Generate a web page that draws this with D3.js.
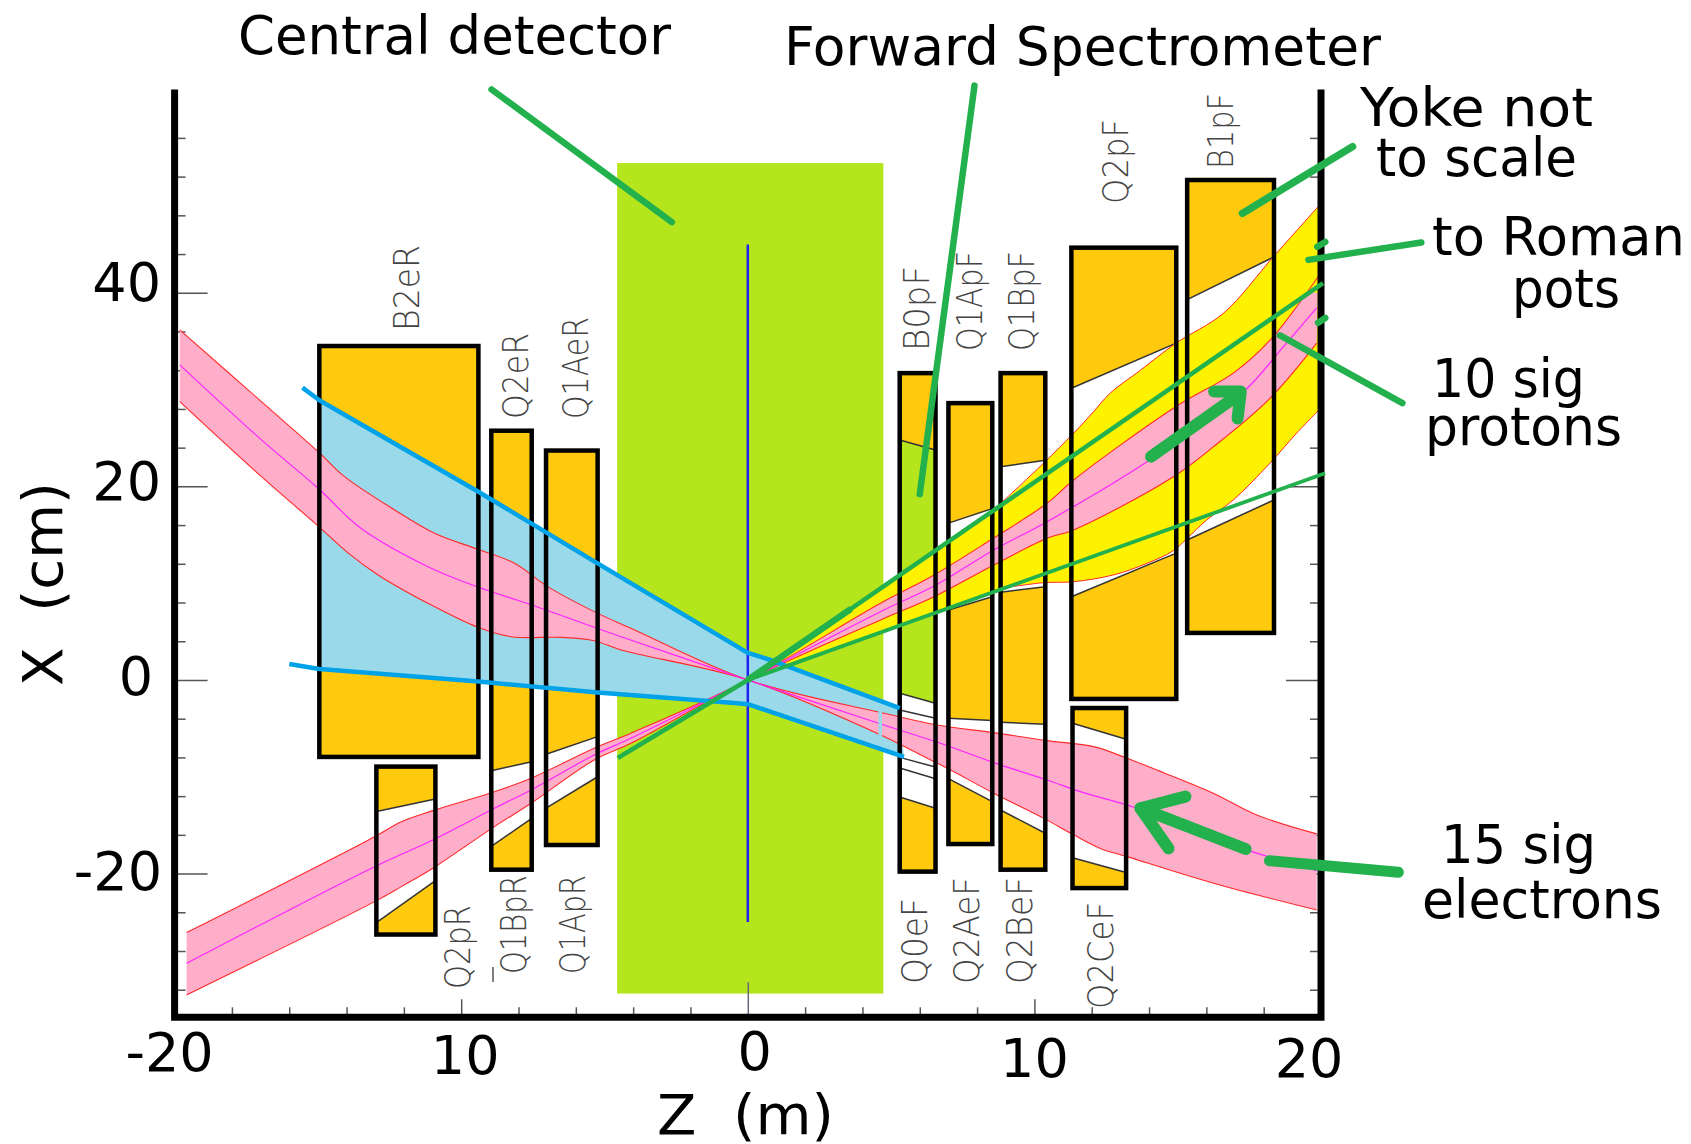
<!DOCTYPE html>
<html>
<head>
<meta charset="utf-8">
<style>
  html, body { margin: 0; padding: 0; background: #fff; overflow: hidden; }
  svg { display: block; }
  text { font-family: "DejaVu Sans", sans-serif; fill: #000; }
  .magnet-label { font-weight: 200; fill: #444; font-size: 36px; }
</style>
<script src="https://cdn.jsdelivr.net/npm/d3@7"></script>
</head>
<body>
<svg id="chart" width="1691" height="1144"></svg>
<script>
// all values below are [z in m, x in cm]

// name, z start, z end, x top, x bottom
const magnets = [
  ["B2eR", -14.95, -9.4, 34.5, -7.95],
  ["Q2eR", -8.95, -7.54, 25.75, -19.6],
  ["Q1AeR", -7.04, -5.24, 23.7, -17.05],
  ["Q2pR", -12.96, -10.9, -8.95, -26.3],
  ["B0pF", 5.3, 6.55, 31.7, -19.8],
  ["Q1ApF", 7.0, 8.53, 28.6, -16.95],
  ["Q1BpF", 8.82, 10.38, 31.7, -19.6],
  ["Q2pF", 11.29, 14.95, 44.66, -1.96],
  ["Q2CeF", 11.33, 13.2, -2.9, -21.5],
  ["B1pF", 15.33, 18.36, 51.65, 4.86]
];

// aperture openings: z start, z end, top at start, top at end, bottom at start, bottom at end
const apertures = [
  [-8.95, -7.54, -9.37, -8.44, -17.2, -14.3],
  [-7.04, -5.24, -7.68, -5.85, -13.25, -10.0],
  [-12.96, -10.9, -13.6, -12.3, -25.07, -20.73],
  [5.3, 6.55, -1.37, -2.4, -12.1, -13.25],
  [7.0, 8.53, 16.2, 17.7, 7.23, 8.6],
  [7.0, 8.53, -3.96, -4.2, -10.2, -12.57],
  [8.82, 10.38, 22.03, 22.7, 9.06, 9.64],
  [8.82, 10.38, -4.37, -4.58, -13.43, -15.84],
  [11.29, 14.95, 30.13, 34.8, 8.6, 13.1],
  [11.33, 13.2, -4.47, -6.13, -18.36, -19.9],
  [15.33, 18.36, 39.3, 43.7, 14.46, 18.6]
];
// extra liner edges inside Q0
const q0Edges = [
  [[5.3, -3.1], [6.55, -3.96]],
  [[5.3, -8.0], [6.55, -9.0]],
  [[5.3, -9.1], [6.55, -10.2]]
];
// the detector shows through B0pF
const q0Window = [[5.3, 24.8], [6.55, 23.76], [6.55, -2.4], [5.3, -1.37]];
const q0TopEdge = [[5.3, 24.8], [6.55, 23.76]];

const centralDetector = [-4.56, 4.73, 53.4, -32.4];
const interactionPoint = [[0, 45], [0, -25]];

const coneTop = [[-15.54, 30.2], [-14.95, 28.9], [-9.4, 19.45], [-5.24, 12.05], [0, 2.8], [0.8, 2.06], [5.3, -2.9]];
const coneBottom = [[-16, 1.65], [-14.95, 1.13], [-9.4, -0.17], [-5.24, -1.3], [-0.36, -2.4], [0, -2.5], [5.45, -7.95]];

const electronTop = [[-19.82, 36.16], [-16.97, 28.75], [-14.99, 23.58], [-14.07, 21.0], [-12.32, 17.56], [-10.93, 15.15],
  [-9.42, 13.5], [-8.14, 12.06], [-6.98, 9.64], [-5.36, 7.06], [-4.08, 5.34], [0, 0],
  [4.75, -3.44], [6.61, -4.65], [8.58, -5.44], [10.44, -6.27], [12.07, -6.89], [13.23, -8.09], [14.51, -9.58],
  [16.24, -11.7], [17.76, -13.95], [19.85, -15.9]];
const electronBottom = [[-19.82, 28.75], [-16.97, 21.0], [-14.99, 15.9], [-13.94, 13.1], [-12.9, 10.85], [-11.16, 7.92],
  [-9.42, 5.44], [-8.26, 4.47], [-6.51, 4.4], [-5.36, 4.06], [-4.42, 3.1], [0, 0],
  [4.75, -5.83], [5.8, -7.4], [6.96, -9.12], [8.58, -11.7], [10.33, -14.3], [11.37, -16.0], [12.3, -17.4], [13.23, -18.25],
  [16.25, -21.0], [19.85, -23.76]];
const electronCenter = [[-19.82, 32.55], [-16.97, 24.8], [-14.99, 19.8], [-13.5, 15.67], [-11.16, 11.7], [-9.42, 9.6],
  [-7.68, 7.9], [-5.36, 5.44], [-4.42, 4.47], [0, 0],
  [4.75, -4.65], [6.72, -6.54], [8.58, -8.54], [10.44, -10.33], [11.6, -11.54], [13.58, -13.25], [17.41, -17.56], [19.85, -19.7]];
const electronNotch = [[4.62, -3.2], [4.62, -5.8]];

const protonTop = [[-19.58, -26.1], [-13.02, -16.19], [-12.09, -14.64], [-10.99, -13.5], [-8.84, -11.54], [-7.56, -10.15],
  [-5.36, -7.06], [-4.08, -5.5], [0, 0],
  [4.63, 7.92], [6.5, 10.85], [8.47, 14.46], [10.44, 18.25], [11.37, 20.66], [14.97, 28.3], [16.94, 31.7], [18.22, 35.1], [19.9, 41.66]];
const protonBottom = [[-19.58, -32.54], [-13.02, -22.9], [-12.09, -21.35], [-10.99, -19.45], [-8.84, -15.15], [-7.56, -12.74],
  [-5.36, -8.26], [-4.08, -6.54], [0, 0],
  [4.63, 6.2], [6.5, 8.6], [8.47, 11.7], [10.44, 14.64], [11.37, 15.5], [14.85, 21.0], [16.25, 24.1], [18.22, 29.1], [19.85, 34.8]];
const protonCenter = [[-19.58, -29.27], [-13.02, -19.29], [-10.99, -16.53], [-8.84, -13.25], [-7.56, -11.36], [-5.36, -7.75],
  [-4.08, -6.02], [0, 0],
  [4.75, 7.23], [6.5, 9.7], [8.58, 13.43], [10.44, 16.35], [13.93, 22.55], [17.3, 29.78], [18.69, 34.43], [19.85, 38.43]];

const potsTop = [[1.2, 2.0], [4.63, 9.5], [6.5, 13.1], [8.7, 17.9], [10.32, 22.4], [11.37, 25.5], [12.06, 27.7], [12.65, 29.65],
  [13.7, 32], [14.94, 34.8], [16.6, 37.9], [18.33, 43.7], [19.9, 48.9]];
const potsBottom = [[1.2, 1.2], [5.3, 5.5], [6.96, 7.44], [8.92, 9.5], [10.32, 10.05], [11.36, 10.15], [12.76, 10.85],
  [13.93, 12.05], [14.85, 13.36], [15.33, 14.63], [16.0, 16.5], [16.94, 18.6], [18.22, 22.4], [19.15, 25.5], [20, 28.1]];

const potsLineTop = [[-4.54, -8.06], [0, 0], [20.07, 41]];
const potsLineBottom = [[0, 0], [20.14, 21.35]];
const potsLineNear = [[0, 0], [3.6, 7.35]];

// leaders and arrows, hand drawn in the original
const leaders = [
  [[-8.94, 61.0], [-2.65, 47.3]],
  [[7.91, 61.4], [6.0, 19.2]],
  [[21.1, 55.1], [17.26, 48.2]],
  [[23.5, 45.2], [19.56, 43.4]],
  [[22.84, 28.6], [18.57, 35.6]],
  [[19.87, 44.75], [20.15, 45.25]],
  [[19.9, 36.9], [20.15, 37.4]]
];
const protonArrow = [[[14.07, 23.07], [17.09, 29.4]], [[16.27, 29.8], [17.2, 29.8], [17.09, 27.0]]];
const electronArrow = [[[17.37, -17.46], [13.7, -13.25]], [[15.27, -12.05], [13.7, -13.25], [14.68, -17.4]]];
const electronLeader = [[18.2, -18.67], [22.7, -19.87]];

const zLabelValues = [-20, -10, 0, 10, 20];
const zLabelText = ["-20", "10", "0", "10", "20"];
const xLabelValues = [40, 20, 0, -20];

// layout, not data
const zLabelNudge = [[-5, 54], [4, 57], [7, 53], [0, 60], [-12, 60]];
const xLabelNudge = [[1, 8], [1, 14], [-7, 15], [2, 16]];
const magnetLabels = [
  ["B2eR", 419, 331, 86], ["Q2eR", 528, 419, 86], ["Q1AeR", 588, 419, 102],
  ["Q2pR", 470, 989, 84], ["Q1BpR", 526, 974, 99], ["Q1ApR", 585, 974, 99],
  ["B0pF", 929, 351, 85], ["Q1ApF", 982, 351, 100], ["Q1BpF", 1034, 351, 100],
  ["Q2pF", 1128, 204, 85], ["B1pF", 1233, 169, 76],
  ["Q0eF", 927, 984, 86], ["Q2AeF", 979, 984, 107], ["Q2BeF", 1032, 984, 107], ["Q2CeF", 1113, 1009, 107]
];
const notes = [
  ["Central detector", 238, 54, 433], ["Forward Spectrometer", 784, 65, 597],
  ["Yoke not", 1360, 126, 233], ["to scale", 1376, 176, 201],
  ["to Roman", 1432, 255, 253], ["pots", 1512, 307, 108],
  ["10 sig", 1432, 397, 153], ["protons", 1425, 445, 197],
  ["15 sig", 1441, 863, 155], ["electrons", 1422, 918, 240]
];

const x = d3.scaleLinear().domain([-20, 20]).range([174.6, 1321]);
const y = d3.scaleLinear().domain([-34.85, 61]).range([1017.3, 89.5]);
const path = d3.line().x(d => x(d[0])).y(d => y(d[1]));
const smooth = d3.line().x(d => x(d[0])).y(d => y(d[1])).curve(d3.curveCatmullRom.alpha(0.5));
const band = (a, b) => smooth(a) + "L" + smooth(b.slice().reverse()).slice(1) + "Z";
const polygon = (a, b) => path(a.concat(b.slice().reverse())) + "Z";

const svg = d3.select("#chart");

function drawLine(d, color, width, cap) {
  return svg.append("path").attr("d", d).attr("fill", "none")
    .attr("stroke", color).attr("stroke-width", width)
    .attr("stroke-linecap", cap || "butt").attr("stroke-linejoin", "round");
}
function stroke(points, color, width, cap) {
  return drawLine(path(points), color, width, cap);
}
function fill(d, color) {
  return svg.append("path").attr("d", d).attr("fill", color);
}
function box(m) {
  return svg.append("rect").attr("x", x(m[1])).attr("y", y(m[3]))
    .attr("width", x(m[2]) - x(m[1])).attr("height", y(m[4]) - y(m[3]));
}

// detector
svg.append("rect").attr("x", x(centralDetector[0])).attr("y", y(centralDetector[2]))
  .attr("width", x(centralDetector[1]) - x(centralDetector[0]))
  .attr("height", y(centralDetector[3]) - y(centralDetector[2]))
  .attr("fill", "#b5e61d");

// yokes
magnets.forEach(m => box(m).attr("fill", "#ffc90e"));
fill(path(q0Window) + "Z", "#b5e61d");
stroke(q0TopEdge, "#333", 1.5);
apertures.forEach(a => {
  const top = [[a[0], a[2]], [a[1], a[3]]];
  const bottom = [[a[0], a[4]], [a[1], a[5]]];
  fill(polygon(top, bottom), "#fff");
  stroke(top, "#333", 1.5);
  stroke(bottom, "#333", 1.5);
});
q0Edges.forEach(e => stroke(e, "#333", 1.5));

// axes ticks, pointing inward
function ticks(axis, at, color) {
  const g = svg.append("g").attr("transform", at).call(axis);
  g.select(".domain").remove();
  g.selectAll("line").attr("stroke", color || "#555").attr("stroke-width", 1.5);
}
const zMinor = d3.range(-18, 20, 2).filter(v => v % 10 != 0);
const xMinor = d3.range(-32, 60, 4).filter(v => v % 20 != 0);
ticks(d3.axisBottom(x).tickValues(zMinor).tickSize(-10).tickFormat(""), "translate(0,1017.3)");
ticks(d3.axisBottom(x).tickValues([-10, 10]).tickSize(-18).tickFormat(""), "translate(0,1017.3)");
ticks(d3.axisBottom(x).tickValues([0]).tickSize(-35).tickFormat(""), "translate(0,1017.3)", "#667");
ticks(d3.axisLeft(y).tickValues(xMinor).tickSize(-11).tickFormat(""), "translate(174.6,0)");
ticks(d3.axisLeft(y).tickValues(xLabelValues).tickSize(-33).tickFormat(""), "translate(174.6,0)");
ticks(d3.axisRight(y).tickValues(xMinor).tickSize(-11).tickFormat(""), "translate(1321,0)");
ticks(d3.axisRight(y).tickValues(xLabelValues).tickSize(-35).tickFormat(""), "translate(1321,0)");

// beam envelopes
fill(band(potsTop, potsBottom), "#fff200");
drawLine(smooth(potsTop.slice(3)), "#ff2a2a", 1);
drawLine(smooth(potsBottom.slice(3)), "#ff2a2a", 1);
fill(polygon(coneTop.slice(1), coneBottom.slice(1)), "#99d9ea");

svg.append("clipPath").attr("id", "protonClip").append("rect")
  .attr("x", 0).attr("y", y(40)).attr("width", 1691).attr("height", 1144 - y(40));
fill(band(electronTop, electronBottom), "#ffaec9");
fill(band(protonTop, protonBottom), "#ffaec9").attr("clip-path", "url(#protonClip)");
[electronTop, electronBottom, protonTop, protonBottom].forEach(d => drawLine(smooth(d), "#ff2a2a", 1.1));
[electronCenter, protonCenter].forEach(d => drawLine(smooth(d), "#ff22ff", 1.2));
stroke(electronNotch, "#99d9ea", 3.5);

stroke(interactionPoint, "#2222ee", 2.5);

// magnet outlines sit over the beams
magnets.forEach(m => box(m).attr("fill", "none").attr("stroke", "#000").attr("stroke-width", 4.5));

// cone edges
stroke(coneTop, "#00a2e8", 4.5);
stroke(coneBottom, "#00a2e8", 4.5);

// frame, open at the top
svg.append("path")
  .attr("d", path([[-20, 61], [-20, -34.85], [20, -34.85], [20, 61]]))
  .attr("fill", "none").attr("stroke", "#000").attr("stroke-width", 7);

// green overlays
stroke(potsLineTop, "#22b14c", 4.5);
stroke(potsLineNear, "#22b14c", 6.5);
stroke(potsLineBottom, "#22b14c", 3.8);
leaders.forEach((l, i) => stroke(l, "#22b14c", i == 2 ? 7.5 : 6.5, "round"));
stroke(electronLeader, "#22b14c", 11, "round");
[protonArrow, electronArrow].forEach(a => a.forEach(p => stroke(p, "#22b14c", 12, "round")));

// labels
svg.selectAll(".magnet-label").data(magnetLabels).join("text")
  .attr("class", "magnet-label")
  .attr("transform", d => "translate(" + d[1] + "," + d[2] + ") rotate(-90)")
  .attr("textLength", d => d[3])
  .attr("lengthAdjust", "spacingAndGlyphs")
  .text(d => d[0]);
svg.append("path").attr("d", "M493,967V982").attr("stroke", "#555").attr("stroke-width", 1.5);

svg.selectAll(".note").data(notes).join("text")
  .attr("class", "note")
  .attr("x", d => d[1]).attr("y", d => d[2])
  .attr("font-size", 53)
  .attr("textLength", d => d[3])
  .attr("lengthAdjust", "spacingAndGlyphs")
  .text(d => d[0]);

svg.selectAll(".zlabel").data(zLabelValues).join("text")
  .attr("class", "zlabel")
  .attr("x", (d, i) => x(d) + zLabelNudge[i][0])
  .attr("y", (d, i) => 1017.3 + zLabelNudge[i][1])
  .attr("text-anchor", "middle").attr("font-size", 54)
  .text((d, i) => zLabelText[i]);
svg.selectAll(".xlabel").data(xLabelValues).join("text")
  .attr("class", "xlabel")
  .attr("x", (d, i) => 160 + xLabelNudge[i][0])
  .attr("y", (d, i) => y(d) + xLabelNudge[i][1])
  .attr("text-anchor", "end").attr("font-size", 54)
  .text(d => d);

svg.append("text").attr("x", 657).attr("y", 1134).attr("font-size", 56)
  .attr("textLength", 177).attr("lengthAdjust", "spacingAndGlyphs")
  .style("white-space", "pre").text("Z  (m)");
svg.append("text").attr("transform", "translate(62,686) rotate(-90)").attr("font-size", 56)
  .attr("textLength", 204).attr("lengthAdjust", "spacingAndGlyphs")
  .style("white-space", "pre").text("X  (cm)");
</script>
</body>
</html>
